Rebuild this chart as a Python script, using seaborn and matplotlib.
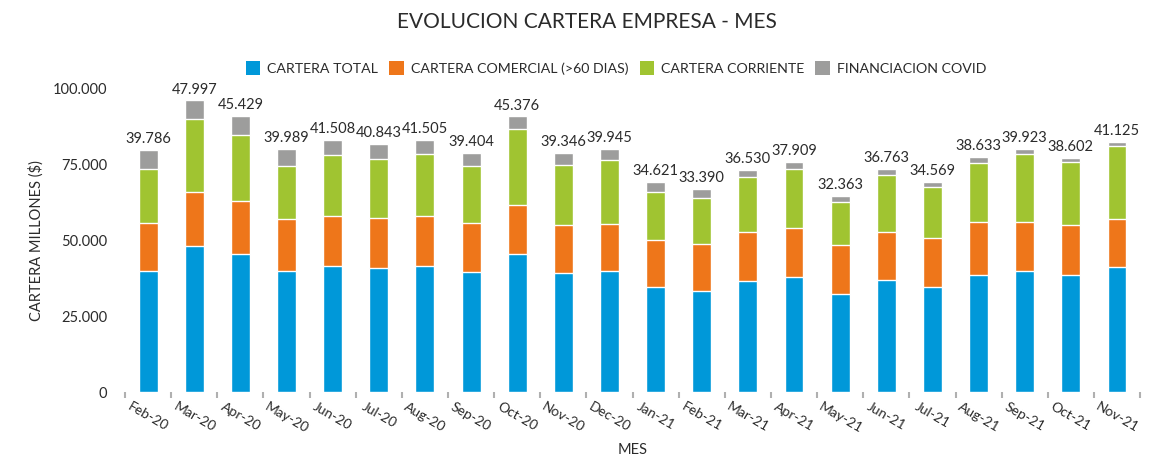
import numpy as np
import pandas as pd
import matplotlib
matplotlib.use("Agg")
import matplotlib.pyplot as plt
from matplotlib.patches import Patch
from matplotlib.ticker import FuncFormatter, FixedLocator
import seaborn as sns

# === Data (millones de $) ===
meses = ["Feb-20", "Mar-20", "Apr-20", "May-20", "Jun-20", "Jul-20", "Aug-20",
         "Sep-20", "Oct-20", "Nov-20", "Dec-20", "Jan-21", "Feb-21", "Mar-21",
         "Apr-21", "May-21", "Jun-21", "Jul-21", "Aug-21", "Sep-21", "Oct-21", "Nov-21"]
cartera_total = [39786, 47997, 45429, 39989, 41508, 40843, 41505, 39404, 45376, 39346,
                 39945, 34621, 33390, 36530, 37909, 32363, 36763, 34569, 38633, 39923,
                 38602, 41125]
cartera_comercial = [16000, 18000, 17300, 17100, 16600, 16600, 16600, 16400, 16200, 15650,
                     15400, 15400, 15300, 16200, 16200, 16000, 16000, 16200, 17200, 16200,
                     16500, 16000]
cartera_corriente = [17600, 23900, 21900, 17400, 19900, 19300, 20400, 18700, 25000, 19800,
                     21100, 15850, 15300, 17900, 19300, 14300, 18700, 16800, 19700, 22400,
                     20750, 24000]
financiacion_covid = [6200, 6100, 6260, 5500, 5000, 5000, 4500, 4300, 4150, 3900,
                      3500, 3350, 2800, 2450, 2400, 2000, 2000, 1500, 1800, 1350,
                      1350, 1150]

series = ["CARTERA TOTAL", "CARTERA COMERCIAL (>60 DIAS)", "CARTERA CORRIENTE", "FINANCIACION COVID"]
colores = ["#0098D9", "#EE761A", "#A0C431", "#9D9D9C"]

df = pd.DataFrame({
    "mes": meses,
    "total": cartera_total,
    "comercial": cartera_comercial,
    "corriente": cartera_corriente,
    "covid": financiacion_covid,
})
# cumulative heights for stacking
df["c1"] = df["total"]
df["c2"] = df["c1"] + df["comercial"]
df["c3"] = df["c2"] + df["corriente"]
df["c4"] = df["c3"] + df["covid"]

sns.set_theme(style="white")
plt.rcParams["font.family"] = ["Lato", "DejaVu Sans"]
txt = "#2b2b2b"

fig = plt.figure(figsize=(11.6, 4.63), dpi=100)
ax = fig.add_axes([0.1078, 0.1533, 0.875, 0.656])

# draw tallest first so each layer covers the one behind it
for col, color in zip(["c4", "c3", "c2", "c1"], colores[::-1]):
    sns.barplot(data=df, x="mes", y=col, color=color, width=0.41,
                saturation=1, ax=ax, zorder=2)

# value labels (cartera total) above each stack
for i, row in df.iterrows():
    ax.text(i, row["c4"] + 1300, f"{row['total']:,}".replace(",", "."),
            ha="center", va="bottom", fontsize=10.5, color=txt)

ax.set_ylim(0, 100000)
ax.set_xlim(-0.5, len(meses) - 0.5)
ax.yaxis.set_major_locator(FixedLocator([0, 25000, 50000, 75000, 100000]))
ax.yaxis.set_major_formatter(FuncFormatter(lambda v, p: f"{int(v):,}".replace(",", ".")))
ax.tick_params(axis="y", length=0, pad=13, labelsize=10.5, labelcolor=txt)

ax.set_xticks(range(len(meses)))
ax.set_xticklabels(meses, rotation=-30, ha="center", fontsize=10, color=txt)
ax.tick_params(axis="x", which="major", length=0, pad=6)
ax.set_xticks(np.arange(-0.5, len(meses)), minor=True)
ax.tick_params(axis="x", which="minor", length=4, width=1.5, color="#b0b0b0", bottom=True)

sns.despine(ax=ax, left=True, bottom=True)

ax.set_xlabel("MES", fontsize=10.5, color=txt, labelpad=6)
ax.set_ylabel("CARTERA MILLONES ($)", fontsize=10.5, color=txt, labelpad=6)

fig.suptitle("EVOLUCION CARTERA EMPRESA - MES", x=0.506, y=0.975, fontsize=15, color=txt)

handles = [Patch(facecolor=c, edgecolor="none") for c in colores]
fig.legend(handles, series, loc="center", bbox_to_anchor=(0.531, 0.853), ncol=4,
           frameon=False, fontsize=10.2, handlelength=1.0, handleheight=1.1,
           handletextpad=0.5, columnspacing=0.8, labelcolor=txt)

fig.savefig("out.png", dpi=100)
